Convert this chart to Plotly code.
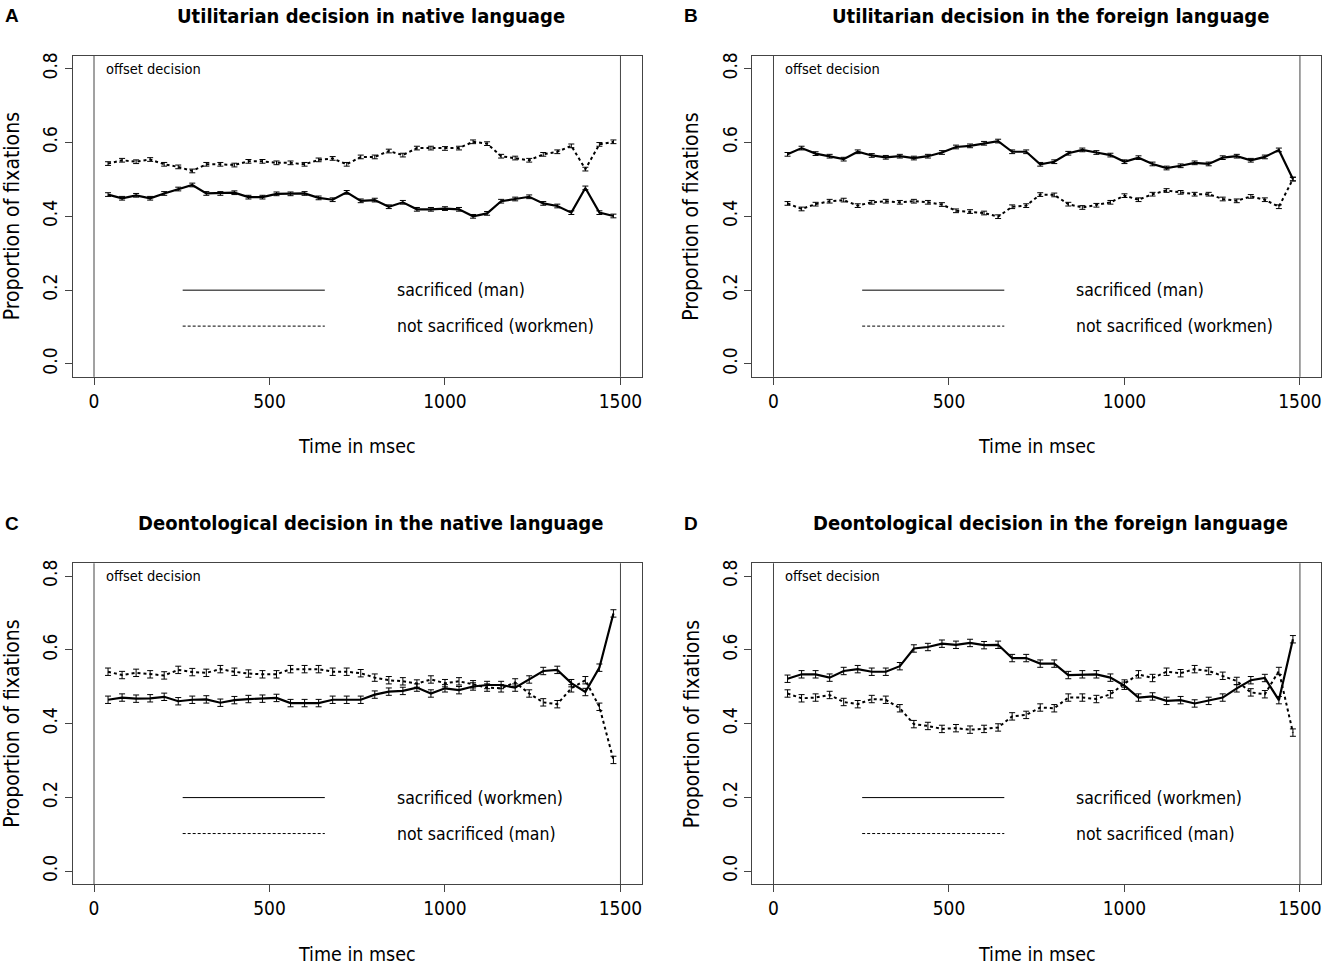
import plotly.graph_objects as go
from plotly.subplots import make_subplots

# time bins (msec before decision offset)
time_ms = [40, 80, 120, 160, 200, 240, 280, 320, 360, 400, 440, 480, 520, 560,
           600, 640, 680, 720, 760, 800, 840, 880, 920, 960, 1000, 1040, 1080,
           1120, 1160, 1200, 1240, 1280, 1320, 1360, 1400, 1440, 1480]

# A - utilitarian, native
a_sacrificed = [0.459, 0.449, 0.457, 0.449, 0.462, 0.474, 0.485, 0.462, 0.462, 0.464,
                0.452, 0.452, 0.461, 0.461, 0.462, 0.450, 0.445, 0.465, 0.442, 0.444,
                0.426, 0.438, 0.419, 0.419, 0.421, 0.419, 0.400, 0.408, 0.441, 0.447,
                0.453, 0.435, 0.428, 0.410, 0.477, 0.410, 0.401]
a_not_sacrificed = [0.543, 0.552, 0.548, 0.554, 0.541, 0.534, 0.523, 0.541, 0.541, 0.539,
                    0.549, 0.549, 0.545, 0.545, 0.541, 0.553, 0.557, 0.541, 0.561, 0.561,
                    0.577, 0.566, 0.585, 0.585, 0.584, 0.585, 0.602, 0.597, 0.563, 0.558,
                    0.552, 0.568, 0.575, 0.591, 0.528, 0.595, 0.602]

# B - utilitarian, foreign
b_sacrificed = [0.568, 0.585, 0.570, 0.563, 0.555, 0.575, 0.565, 0.560, 0.563, 0.558,
                0.563, 0.573, 0.588, 0.591, 0.598, 0.604, 0.575, 0.575, 0.541, 0.548,
                0.571, 0.580, 0.573, 0.566, 0.548, 0.559, 0.542, 0.531, 0.537, 0.545,
                0.542, 0.559, 0.563, 0.552, 0.561, 0.580, 0.501]
b_not_sacrificed = [0.435, 0.420, 0.433, 0.441, 0.444, 0.429, 0.438, 0.441, 0.438, 0.441,
                    0.438, 0.432, 0.415, 0.413, 0.409, 0.399, 0.426, 0.429, 0.459, 0.458,
                    0.433, 0.424, 0.430, 0.438, 0.456, 0.445, 0.460, 0.470, 0.465, 0.460,
                    0.460, 0.447, 0.442, 0.454, 0.445, 0.426, 0.501]

# C - deontological, native
c_sacrificed = [0.465, 0.471, 0.468, 0.469, 0.473, 0.461, 0.465, 0.466, 0.457, 0.464,
                0.467, 0.468, 0.470, 0.456, 0.456, 0.456, 0.465, 0.465, 0.465, 0.479,
                0.487, 0.489, 0.498, 0.482, 0.496, 0.491, 0.501, 0.505, 0.505, 0.498,
                0.520, 0.543, 0.546, 0.510, 0.486, 0.552, 0.699]
c_not_sacrificed = [0.541, 0.532, 0.538, 0.534, 0.531, 0.546, 0.540, 0.538, 0.548, 0.541,
                    0.536, 0.534, 0.534, 0.548, 0.548, 0.548, 0.541, 0.541, 0.537, 0.525,
                    0.518, 0.515, 0.509, 0.520, 0.510, 0.515, 0.507, 0.498, 0.496, 0.512,
                    0.482, 0.458, 0.453, 0.496, 0.518, 0.446, 0.302]

# D - deontological, foreign
d_sacrificed = [0.522, 0.534, 0.534, 0.525, 0.543, 0.548, 0.541, 0.541, 0.556, 0.604,
                0.608, 0.617, 0.614, 0.619, 0.613, 0.614, 0.578, 0.578, 0.563, 0.563,
                0.532, 0.534, 0.534, 0.525, 0.503, 0.471, 0.474, 0.462, 0.464, 0.455,
                0.462, 0.471, 0.496, 0.518, 0.524, 0.464, 0.629]
d_not_sacrificed = [0.482, 0.469, 0.471, 0.478, 0.459, 0.453, 0.467, 0.465, 0.442, 0.399,
                    0.394, 0.386, 0.388, 0.384, 0.386, 0.390, 0.420, 0.424, 0.444, 0.442,
                    0.471, 0.471, 0.467, 0.480, 0.509, 0.534, 0.524, 0.541, 0.537, 0.548,
                    0.543, 0.530, 0.516, 0.485, 0.480, 0.543, 0.376]

# approximate standard error per panel
panel_se = [0.005, 0.005, 0.01, 0.01]

panel_letters = ["A", "B", "C", "D"]
panel_titles = ["Utilitarian decision in native language",
                "Utilitarian decision in the foreign language",
                "Deontological decision in the native language",
                "Deontological decision in the foreign language"]
legend_solid = ["sacrificed (man)", "sacrificed (man)",
                "sacrificed (workmen)", "sacrificed (workmen)"]
legend_dashed = ["not sacrificed (workmen)", "not sacrificed (workmen)",
                 "not sacrificed (man)", "not sacrificed (man)"]
series = [(a_sacrificed, a_not_sacrificed), (b_sacrificed, b_not_sacrificed),
          (c_sacrificed, c_not_sacrificed), (d_sacrificed, d_not_sacrificed)]

FONT = "Liberation Sans Narrow, Arial Narrow, DejaVu Sans Condensed, Liberation Sans, sans-serif"
W, H = 1325, 965

fig = make_subplots(rows=2, cols=2)

# pixel boxes of each panel (left, right, top, bottom)
boxes = [(73, 642, 53, 375), (753, 1322, 53, 375),
         (73, 642, 562, 884), (753, 1322, 562, 884)]

for i, (solid, dashed) in enumerate(series):
    r, c = i // 2 + 1, i % 2 + 1
    se = panel_se[i]
    fig.add_trace(go.Scatter(x=time_ms, y=dashed, mode="lines",
                             line=dict(color="black", width=2, dash="dot"),
                             error_y=dict(type="constant", value=se, color="black",
                                          thickness=1, width=3),
                             showlegend=False), row=r, col=c)
    fig.add_trace(go.Scatter(x=time_ms, y=solid, mode="lines",
                             line=dict(color="black", width=2.2),
                             error_y=dict(type="constant", value=se, color="black",
                                          thickness=1, width=3),
                             showlegend=False), row=r, col=c)

annotations = []
shapes = []
for i in range(4):
    l, rgt, t, b = boxes[i]
    n = "" if i == 0 else str(i + 1)
    xa, ya = "xaxis" + n, "yaxis" + n
    xr, yr = "x" + n, "y" + n
    fig.layout[xa].update(domain=[l / W, rgt / W], range=[-60, 1560],
                          tickvals=[0, 500, 1000, 1500], ticks="outside", ticklen=7,
                          showline=True, mirror=True, linecolor="#444", linewidth=1,
                          showgrid=False, zeroline=False,
                          tickfont=dict(family=FONT, size=19, color="black"))
    fig.layout[ya].update(domain=[1 - b / H, 1 - t / H], range=[-0.035, 0.835],
                          tickvals=[0, 0.2, 0.4, 0.6, 0.8], tickformat=".1f",
                          tickangle=-90, ticks="outside", ticklen=7,
                          showline=True, mirror=True, linecolor="#444", linewidth=1,
                          showgrid=False, zeroline=False,
                          tickfont=dict(family=FONT, size=19, color="black"))
    # decision offset markers
    for xv in [0, 1500]:
        shapes.append(dict(type="line", xref=xr, yref=yr + " domain", x0=xv, x1=xv,
                           y0=0, y1=1, line=dict(color="#444", width=1)))
    # legend lines
    shapes.append(dict(type="line", xref=xr + " domain", yref=yr + " domain",
                       x0=0.193, x1=0.443, y0=0.270, y1=0.270,
                       line=dict(color="black", width=1)))
    shapes.append(dict(type="line", xref=xr + " domain", yref=yr + " domain",
                       x0=0.193, x1=0.443, y0=0.158, y1=0.158,
                       line=dict(color="black", width=1, dash="3px,2px")))
    annotations += [
        dict(text=legend_solid[i], xref=xr + " domain", yref=yr + " domain",
             x=0.566, y=0.270, xanchor="left", yanchor="middle", showarrow=False,
             font=dict(family=FONT, size=17.5, color="black")),
        dict(text=legend_dashed[i], xref=xr + " domain", yref=yr + " domain",
             x=0.566, y=0.158, xanchor="left", yanchor="middle", showarrow=False,
             font=dict(family=FONT, size=17.5, color="black")),
        dict(text="offset decision", xref=xr + " domain", yref=yr + " domain",
             x=0.054, y=0.96, xanchor="left", yanchor="middle", showarrow=False,
             font=dict(family=FONT, size=14.5, color="black")),
        dict(text="<b>" + panel_titles[i] + "</b>", xref=xr + " domain",
             yref=yr + " domain", x=0.524, y=1, yshift=40, xanchor="center",
             yanchor="middle", showarrow=False,
             font=dict(family=FONT, size=20, color="black")),
        dict(text="Time in msec", xref=xr + " domain", yref=yr + " domain",
             x=0.5, y=0, yshift=-70, xanchor="center", yanchor="middle",
             showarrow=False, font=dict(family=FONT, size=19.5, color="black")),
        dict(text="Proportion of fixations", xref=xr + " domain",
             yref=yr + " domain", x=0, y=0.5, xshift=-61, textangle=-90,
             xanchor="center", yanchor="middle", showarrow=False,
             font=dict(family=FONT, size=21, color="black")),
        dict(text="<b>" + panel_letters[i] + "</b>", xref="paper", yref="paper",
             x=(l - 61) / W, y=1 - (t - 40) / H, xanchor="center", yanchor="middle",
             showarrow=False, font=dict(family="Liberation Sans, Arial, sans-serif",
                                        size=19, color="black")),
    ]

fig.update_layout(width=W, height=H, margin=dict(l=0, r=0, t=0, b=0),
                  plot_bgcolor="white", paper_bgcolor="white",
                  annotations=annotations, shapes=shapes, showlegend=False)

# drop the default page margin so the figure sits at the window's corner
fig.write_html("out.html", config={"displayModeBar": False},
               post_script="document.body.style.margin='0';"
                           "document.body.style.overflow='hidden';")
